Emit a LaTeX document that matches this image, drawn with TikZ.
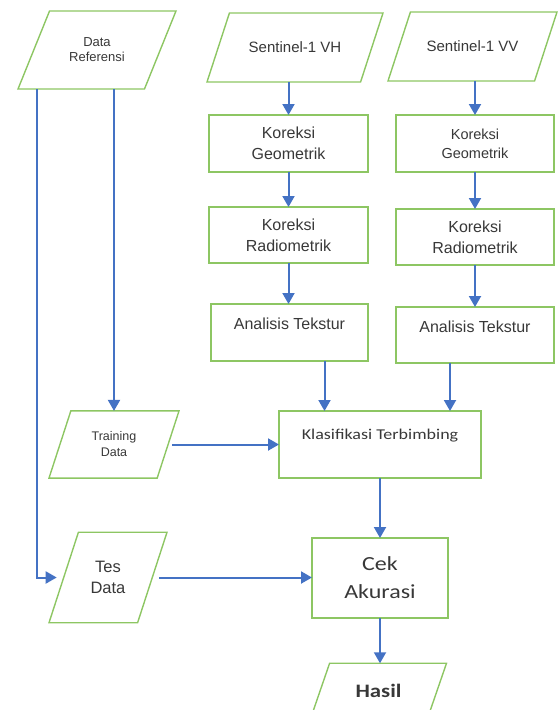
\documentclass[tikz,border=0pt]{standalone}
\usepackage{fontspec}
\setmainfont{Liberation Sans}
\newfontfamily\calibfont[FakeStretch=1.2]{Carlito}
\usetikzlibrary{shapes.geometric,arrows.meta,calc}
\definecolor{boxgreen}{RGB}{141,198,99}
\definecolor{arrowblue}{RGB}{68,114,196}
\definecolor{txtgray}{RGB}{56,56,56}
\tikzset{
  proses/.style={
      draw=boxgreen,
      line width=1.4pt,
      rectangle,
      align=center,
      text=txtgray,
      inner sep=0pt,
      outer sep=0pt,
  },
  datain/.style={
      draw=boxgreen,
      line width=1.4pt,
      trapezium,
      trapezium stretches body=true,
      trapezium left angle=72,
      trapezium right angle=108,
      align=center,
      text=txtgray,
      inner xsep=0pt,
      inner ysep=#1,
      outer sep=0pt,
  },
  atas/.style={
      inner ysep=8pt,
      text height=#1,
  },
  alur/.style={
      draw=arrowblue,
      line width=2pt,
      -{Triangle[width=12pt,length=11pt]},
  },
}
\newcommand{\ukuran}[2]{\fontsize{#1}{#2}\selectfont}

\begin{document}
\begin{tikzpicture}[x=1pt,y=-1pt]
  \useasboundingbox (0,0) rectangle (558,710);
  \clip (0,0) rectangle (558,710);

  % data masukan
  \node (DATAREF) [datain=27pt, trapezium left angle=68, trapezium right angle=112,
    minimum width=158pt, font=\ukuran{13}{15}] at (97,50) {Data\\Referensi};
  \node (VH) [datain=29pt, minimum width=176pt, font=\ukuran{15}{18}] at (295,47.5) {Sentinel-1 VH};
  \node (VV) [datain=29pt, minimum width=169pt, font=\ukuran{15}{18}] at (472.5,46.5) {Sentinel-1 VV};

  % kolom VH
  \node (KGVH) [proses, minimum width=159pt, minimum height=57pt, font=\ukuran{16}{21}] at (288.5,143.5) {Koreksi\\Geometrik};
  \node (KRVH) [proses, minimum width=159pt, minimum height=56pt, font=\ukuran{16}{21}] at (288.5,235) {Koreksi\\Radiometrik};
  \node (ATVH) [proses, atas=17pt, text depth=24pt, minimum width=157pt, minimum height=57pt, font=\ukuran{16}{21}] at (289.5,332.5) {Analisis Tekstur};

  % kolom VV
  \node (KGVV) [proses, minimum width=158pt, minimum height=57pt, font=\ukuran{14.5}{19}] at (475,143.5) {Koreksi\\Geometrik};
  \node (KRVV) [proses, minimum width=158pt, minimum height=56pt, font=\ukuran{16}{21}] at (475,237) {Koreksi\\Radiometrik};
  \node (ATVV) [proses, atas=17pt, text depth=23pt, minimum width=158pt, minimum height=56pt, font=\ukuran{16}{21}] at (475,335) {Analisis Tekstur};

  \node (TRAINING) [datain=21pt, minimum width=130pt, font=\ukuran{12.5}{16}] at (114,444.5) {Training\\Data};
  \node (KLAS) [proses, atas=20pt, text depth=31pt, minimum width=202pt, minimum height=67pt, font=\calibfont\ukuran{15}{18}] at (380,444.5) {Klasifikasi Terbimbing};
  \node (TES) [datain=29pt, minimum width=118pt, font=\ukuran{16.5}{21}] at (108,577.5) {Tes\\Data};
  \node (CEK) [proses, minimum width=136pt, minimum height=80pt, font=\calibfont\ukuran{20}{28}] at (380,578) {Cek\\Akurasi};
  \node (HASIL) [datain=21pt, trapezium left angle=71, trapezium right angle=109,
    minimum width=136pt, font=\calibfont\bfseries\ukuran{19}{23}] at (378.5,691) {Hasil};

  \coordinate (BUSKIRI) at (37,0);

  \draw[alur] (VH.south -| KGVH.north) -- (KGVH.north);
  \draw[alur] (VV.south -| KGVV.north) -- (KGVV.north);
  \draw[alur] (KGVH.south) -- (KRVH.north);
  \draw[alur] (KGVV.south) -- (KRVV.north);
  \draw[alur] (KRVH.south) -- (KRVH.south |- ATVH.north);
  \draw[alur] (KRVV.south) -- (KRVV.south |- ATVV.north);
  \draw[alur] ([xshift=35pt]ATVH.south) -- ([xshift=35pt]ATVH.south |- KLAS.north);
  \draw[alur] ([xshift=-25pt]ATVV.south) -- ([xshift=-25pt]ATVV.south |- KLAS.north);
  \draw[alur] (DATAREF.south -| TRAINING.north) -- (TRAINING.north);
  \draw[alur, shorten >=7pt] (DATAREF.south -| BUSKIRI) |- (TES.west);
  \draw[alur, shorten <=4pt] (TRAINING.east) -- (TRAINING.east -| KLAS.west);
  \draw[alur, shorten <=7pt] (TES.east) -- (TES.east -| CEK.west);
  \draw[alur] (KLAS.south) -- (CEK.north);
  \draw[alur] (CEK.south) -- (CEK.south |- HASIL.north);
\end{tikzpicture}
\end{document}
